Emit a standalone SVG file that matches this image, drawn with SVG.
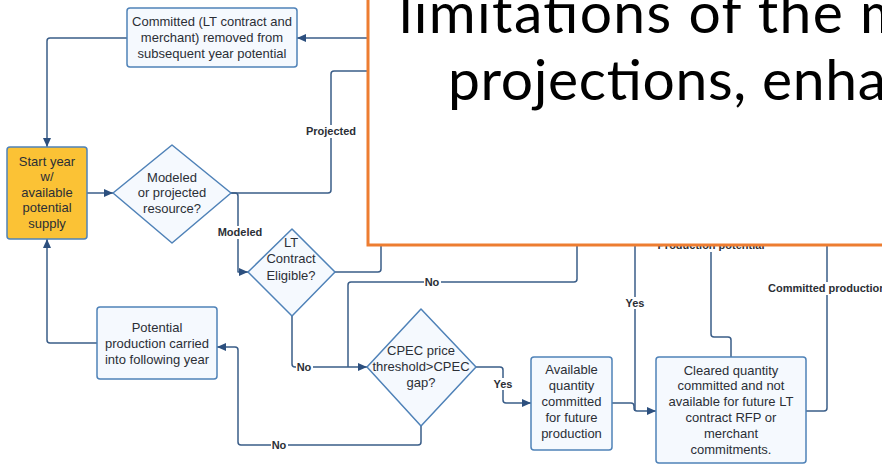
<svg xmlns="http://www.w3.org/2000/svg" width="882" height="464" viewBox="0 0 882 464">
<defs>
<marker id="ah" markerUnits="userSpaceOnUse" markerWidth="9" markerHeight="8" refX="9" refY="4" orient="auto">
<path d="M0,0 L9,4 L0,8 z" fill="#2c4f7e"/>
</marker>
<style>
.c{fill:none;stroke:#3a5d88;stroke-width:1.5;stroke-linejoin:round}
.n{fill:#f5f9fe;stroke:#4f82b8;stroke-width:1.5;stroke-linejoin:round}
.t{font-family:"Liberation Sans",Arial,sans-serif;font-size:13px;fill:#2b2f36;text-anchor:middle}
.l{font-family:"Liberation Sans",Arial,sans-serif;font-size:11px;font-weight:bold;fill:#2b2f36;text-anchor:middle}
.bg{fill:#ffffff}
</style>
</defs>
<rect width="882" height="464" fill="#ffffff"/>
<g id="connectors">
<path class="c" d="M368,38 L297,38" marker-end="url(#ah)"/>
<path class="c" d="M127,38 L50,38 Q47,38 47,41 L47,147" marker-end="url(#ah)"/>
<path class="c" d="M87,193 L113,193" marker-end="url(#ah)"/>
<path class="c" d="M231,193 L328,193 Q331,193 331,190 L331,74 Q331,71 334,71 L370,71"/>
<path class="c" d="M231,193 L235,193 Q238,193 238,196 L238,272 L248,272" marker-end="url(#ah)"/>
<path class="c" d="M335,272 L378,272 Q381,272 381,269 L381,240"/>
<path class="c" d="M292,316 L292,364 Q292,367 295,367 L367,367" marker-end="url(#ah)"/>
<path class="c" d="M577,240 L577,279 Q577,282 574,282 L351,282 Q348,282 348,285 L348,367"/>
<path class="c" d="M421,426 L421,442 Q421,445 418,445 L241,445 Q238,445 238,442 L238,350 Q238,347 235,347 L217,347" marker-end="url(#ah)"/>
<path class="c" d="M97,343 L50,343 Q47,343 47,340 L47,239" marker-end="url(#ah)"/>
<path class="c" d="M476,367 L500,367 Q503,367 503,370 L503,400 Q503,403 506,403 L531,403" marker-end="url(#ah)"/>
<path class="c" d="M612,403 L631,403 Q634,403 634,406 L634,408 Q634,411 637,411 L656,411" marker-end="url(#ah)"/>
<path class="c" d="M635,240 L635,411"/>
<path class="c" d="M731,357 L731,340 Q731,337 728,337 L714,337 Q711,337 711,334 L711,240"/>
<path class="c" d="M806,411 L824,411 Q827,411 827,408 L827,240"/>
<rect class="bg" x="305" y="125" width="52" height="13"/>
<text class="l" x="331" y="135">Projected</text>
<rect class="bg" x="217" y="226" width="46" height="13"/>
<text class="l" x="240" y="236">Modeled</text>
<rect class="bg" x="296" y="361" width="17" height="12"/>
<text class="l" x="304" y="371">No</text>
<rect class="bg" x="424" y="276" width="17" height="12"/>
<text class="l" x="432" y="286">No</text>
<rect class="bg" x="271" y="439" width="17" height="12"/>
<text class="l" x="279" y="449">No</text>
<rect class="bg" x="492" y="378" width="22" height="12"/>
<text class="l" x="503" y="388">Yes</text>
<rect class="bg" x="624" y="297" width="22" height="12"/>
<text class="l" x="635" y="307">Yes</text>
<rect class="bg" x="764" y="282" width="126" height="13"/>
<text class="l" x="827" y="292">Committed production</text>
<rect class="bg" x="655" y="239" width="112" height="13"/>
<text class="l" x="711" y="249">Production potential</text>
</g>
<g id="committed">
<rect class="n" x="127" y="8" width="170" height="59" rx="3"/>
<text class="t" x="212" y="25.5">Committed (LT contract and</text>
<text class="t" x="212" y="41.5">merchant) removed from</text>
<text class="t" x="212" y="57.5">subsequent year potential</text>
</g>
<g id="start">
<rect x="7" y="147" width="80" height="92" rx="3" fill="#fbc235" stroke="#4f82b8" stroke-width="1.5"/>
<text class="t" x="47" y="165.5">Start year</text>
<text class="t" x="47" y="181">w/</text>
<text class="t" x="47" y="196.5">available</text>
<text class="t" x="47" y="212">potential</text>
<text class="t" x="47" y="228">supply</text>
</g>
<g id="modeled">
<polygon class="n" points="172,145 231,193 172,243 113,193"/>
<text class="t" x="172" y="181.5">Modeled</text>
<text class="t" x="172" y="197">or projected</text>
<text class="t" x="172" y="212.5">resource?</text>
</g>
<g id="lt">
<polygon class="n" points="292,229 335,272 292,316 248,272"/>
<text class="t" x="291" y="246.5">LT</text>
<text class="t" x="291" y="263">Contract</text>
<text class="t" x="291" y="279.5">Eligible?</text>
</g>
<g id="cpec">
<polygon class="n" points="421,309 476,367 421,426 367,367"/>
<text class="t" x="421" y="354.5">CPEC price</text>
<text class="t" x="421" y="371">threshold&gt;CPEC</text>
<text class="t" x="421" y="386.5">gap?</text>
</g>
<g id="potential">
<rect class="n" x="97" y="307" width="120" height="72" rx="3"/>
<text class="t" x="157" y="331.5">Potential</text>
<text class="t" x="157" y="347.5">production carried</text>
<text class="t" x="157" y="363.5">into following year</text>
</g>
<g id="available">
<rect class="n" x="531" y="357" width="81" height="93" rx="3"/>
<text class="t" x="571.5" y="373.5">Available</text>
<text class="t" x="571.5" y="389.5">quantity</text>
<text class="t" x="571.5" y="405.5">committed</text>
<text class="t" x="571.5" y="421.5">for future</text>
<text class="t" x="571.5" y="437.5">production</text>
</g>
<g id="cleared">
<rect class="n" x="656" y="357" width="150" height="106" rx="3"/>
<text class="t" x="731" y="374.5">Cleared quantity</text>
<text class="t" x="731" y="390">committed and not</text>
<text class="t" x="731" y="406">available for future LT</text>
<text class="t" x="731" y="422">contract RFP or</text>
<text class="t" x="731" y="438">merchant</text>
<text class="t" x="731" y="454">commitments.</text>
</g>
<g id="overlay">
<rect x="368" y="-10" width="530" height="255" fill="#ffffff" stroke="#ed7d31" stroke-width="3"/>
<text x="399" y="33" font-family="Lato,'Open Sans',sans-serif" font-size="57" fill="#000000" textLength="508">limitations of the m</text>
<text x="448" y="100" font-family="Lato,'Open Sans',sans-serif" font-size="57" fill="#000000" textLength="438">projections, enha</text>
</g>
</svg>
